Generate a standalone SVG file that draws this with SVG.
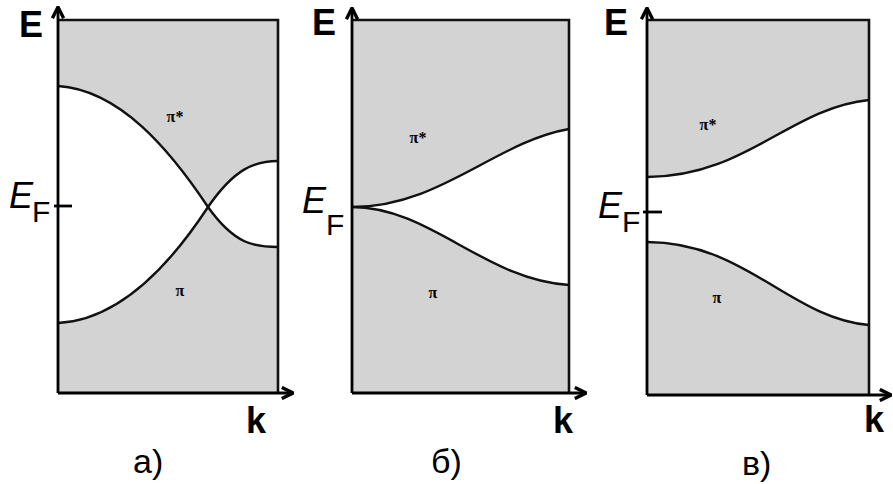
<svg xmlns="http://www.w3.org/2000/svg" width="893" height="484" viewBox="0 0 893 484">
<defs>
<marker id="arr" viewBox="0 0 10 10" refX="9" refY="5" markerWidth="5" markerHeight="5" orient="auto" markerUnits="strokeWidth">
<path d="M1,1 L9,5 L1,9" fill="none" stroke="#000" stroke-width="2.4"/>
</marker>
</defs>
<style>
.bg{fill:#ffffff}
.gray{fill:#d3d3d3;stroke:none}
.curve{fill:none;stroke:#111;stroke-width:2.4}
.frame{fill:none;stroke:#111;stroke-width:2.6}
.axis{fill:none;stroke:#000;stroke-width:2.8;marker-end:url(#arr)}
.tick{stroke:#000;stroke-width:2.8}
.lblE{font-family:"Liberation Sans",Arial,sans-serif;font-weight:bold;font-size:36px;fill:#000}
.lblk{font-family:"Liberation Sans",Arial,sans-serif;font-weight:bold;font-size:36px;fill:#000}
.ef{font-family:"Liberation Sans",Arial,sans-serif;font-style:italic;font-size:36px;fill:#000}
.efs{font-family:"Liberation Sans",Arial,sans-serif;font-size:30px;fill:#000}
.cap{font-family:"Liberation Sans",Arial,sans-serif;font-size:34px;fill:#000}
.pi{font-family:"Liberation Serif","Times New Roman",serif;font-weight:bold;font-size:16px;fill:#000}
</style>
<rect class="bg" x="0" y="0" width="893" height="484"/>

<g id="panel-a">
<path class="gray" d="M58,20 H278 V161 C255,161 235,168 208,207 C170,150 120,90 58,86 Z"/>
<path class="gray" d="M58,393 H278 V247 C255,247 235,245 208,207 C170,265 120,320 58,323 Z"/>
<path class="frame" d="M58,20 H278 V393"/>
<path class="curve" d="M58,86 C120,90 170,150 208,207 C235,245 255,247 278,247"/>
<path class="curve" d="M58,323 C120,320 170,265 208,207 C235,168 255,161 278,161"/>
<line class="tick" x1="54" y1="206" x2="72" y2="206"/>
<text class="pi" x="175" y="122" text-anchor="middle">π*</text>
<text class="pi" x="180" y="296" text-anchor="middle">π</text>
<text class="lblE" x="19" y="37">E</text>
<text class="ef" x="9" y="208">E</text>
<text class="efs" x="32" y="222">F</text>
<text class="lblk" x="246" y="433">k</text>
<text class="cap" x="133" y="473">a)</text>
</g>

<g id="panel-b">
<path class="gray" d="M352,20 H569 V129 C495,142 440,207 352,207 Z"/>
<path class="gray" d="M352,393 H569 V285 C485,280 430,207 352,207 Z"/>
<path class="frame" d="M352,20 H569 V393"/>
<path class="curve" d="M352,207 C440,207 495,142 569,129"/>
<path class="curve" d="M352,207 C430,207 485,280 569,285"/>
<text class="pi" x="418" y="143" text-anchor="middle">π*</text>
<text class="pi" x="433" y="298" text-anchor="middle">π</text>
<text class="lblE" x="312" y="35">E</text>
<text class="ef" x="302" y="213">E</text>
<text class="efs" x="326" y="235">F</text>
<text class="lblk" x="553" y="433">k</text>
<text class="cap" x="431" y="473">б)</text>
</g>

<g id="panel-c">
<path class="gray" d="M647,20 H869 V100 C790,108 745,177 647,177 Z"/>
<path class="gray" d="M647,395 H869 V325 C790,318 745,242 647,242 Z"/>
<path class="frame" d="M647,20 H869 V395"/>
<path class="curve" d="M647,177 C745,177 790,108 869,100"/>
<path class="curve" d="M647,242 C745,242 790,318 869,325"/>
<line class="tick" x1="643" y1="212" x2="662" y2="212"/>
<text class="pi" x="708" y="130" text-anchor="middle">π*</text>
<text class="pi" x="717" y="303" text-anchor="middle">π</text>
<text class="lblE" x="604" y="35">E</text>
<text class="ef" x="598" y="218">E</text>
<text class="efs" x="622" y="232">F</text>
<text class="lblk" x="864" y="432">k</text>
<text class="cap" x="742" y="475">в)</text>
</g>

<g id="axes">
<path class="axis" d="M58,393 V7"/>
<path class="axis" d="M58,393 H293"/>
<path class="axis" d="M352,393 V8"/>
<path class="axis" d="M352,393 H586"/>
<path class="axis" d="M647,395 V8"/>
<path class="axis" d="M647,395 H891"/>
</g>
</svg>
